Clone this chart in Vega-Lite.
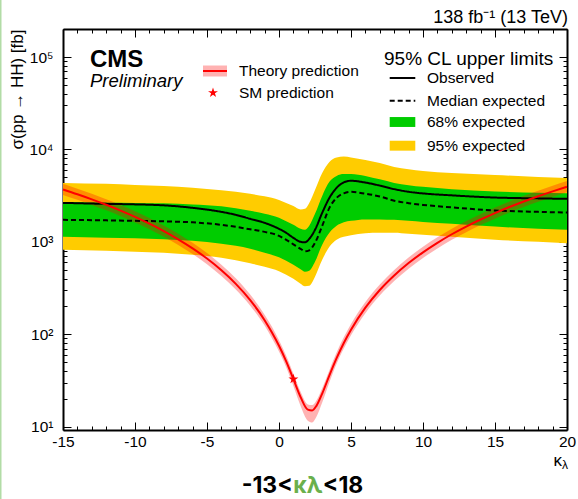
{
  "$schema": "https://vega.github.io/schema/vega-lite/v6.json",
  "width": 504,
  "height": 401,
  "autosize": {"type": "none"},
  "padding": {"left": 63, "top": 29, "right": 11, "bottom": 69},
  "background": "white",
  "config": {
    "view": {"stroke": null},
    "font": "Liberation Sans",
    "axis": {"grid": false, "tickColor": "black", "tickWidth": 1, "domainColor": "black", "domainWidth": 2, "labelFont": "Liberation Sans", "labelColor": "black", "labelFontSize": 15.5, "titleFont": "Liberation Sans", "titleColor": "black", "titleFontWeight": "normal", "labelOverlap": false, "labelFlush": false, "zindex": 1},
    "legend": {"labelFont": "Liberation Sans", "labelFontSize": 15.5, "labelColor": "black", "titleFont": "Liberation Sans", "titleFontSize": 19, "titleFontWeight": "normal", "titleColor": "black", "padding": 0, "labelLimit": 300, "direction": "vertical"}
  },
  "datasets": {
    "limits": [
      {"kl": -15, "obs": 2640, "exp": 1729, "lo68": 1132, "hi68": 2705, "lo95": 820, "hi95": 4345},
      {"kl": -12, "obs": 2576, "exp": 1708, "lo68": 1104, "hi68": 2672, "lo95": 800, "hi95": 4240},
      {"kl": -10, "obs": 2543, "exp": 1686, "lo68": 1091, "hi68": 2640, "lo95": 780, "hi95": 4130},
      {"kl": -8, "obs": 2483, "exp": 1666, "lo68": 1064, "hi68": 2608, "lo95": 760, "hi95": 4030},
      {"kl": -6, "obs": 2333, "exp": 1625, "lo68": 1025, "hi68": 2543, "lo95": 723, "hi95": 3840},
      {"kl": -4, "obs": 2110, "exp": 1527, "lo68": 951, "hi68": 2420, "lo95": 671, "hi95": 3605},
      {"kl": -3, "obs": 1959, "exp": 1452, "lo68": 905, "hi68": 2303, "lo95": 631, "hi95": 3473},
      {"kl": -2, "obs": 1774, "exp": 1365, "lo68": 840, "hi68": 2163, "lo95": 586, "hi95": 3306},
      {"kl": -1, "obs": 1604, "exp": 1282, "lo68": 760, "hi68": 2008, "lo95": 537, "hi95": 3105},
      {"kl": 0, "obs": 1383, "exp": 1161, "lo68": 680, "hi68": 1817, "lo95": 480, "hi95": 2845},
      {"kl": 0.5, "obs": 1251, "exp": 1052, "lo68": 623, "hi68": 1666, "lo95": 440, "hi95": 2640},
      {"kl": 1, "obs": 1104, "exp": 940, "lo68": 564, "hi68": 1527, "lo95": 398, "hi95": 2449},
      {"kl": 1.5, "obs": 1000, "exp": 840, "lo68": 505, "hi68": 1383, "lo95": 352, "hi95": 2245},
      {"kl": 1.8, "obs": 988, "exp": 789, "lo68": 474, "hi68": 1349, "lo95": 330, "hi95": 2275},
      {"kl": 2.1, "obs": 1077, "exp": 809, "lo68": 486, "hi68": 1489, "lo95": 334, "hi95": 2640},
      {"kl": 2.5, "obs": 1349, "exp": 975, "lo68": 608, "hi68": 2008, "lo95": 419, "hi95": 3650},
      {"kl": 3, "obs": 2060, "exp": 1489, "lo68": 929, "hi68": 3143, "lo95": 638, "hi95": 5570},
      {"kl": 3.5, "obs": 2992, "exp": 2333, "lo68": 1251, "hi68": 4456, "lo95": 883, "hi95": 7330},
      {"kl": 4, "obs": 3840, "exp": 2992, "lo68": 1489, "hi68": 5170, "lo95": 1052, "hi95": 8200},
      {"kl": 4.5, "obs": 4400, "exp": 3345, "lo68": 1625, "hi68": 5433, "lo95": 1132, "hi95": 8400},
      {"kl": 5, "obs": 4580, "exp": 3475, "lo68": 1686, "hi68": 5433, "lo95": 1175, "hi95": 8200},
      {"kl": 6, "obs": 4380, "exp": 3318, "lo68": 1750, "hi68": 5170, "lo95": 1236, "hi95": 7690},
      {"kl": 7, "obs": 4060, "exp": 3098, "lo68": 1750, "hi68": 4743, "lo95": 1251, "hi95": 7145},
      {"kl": 8, "obs": 3720, "exp": 2790, "lo68": 1729, "hi68": 4345, "lo95": 1251, "hi95": 6470},
      {"kl": 9, "obs": 3480, "exp": 2620, "lo68": 1690, "hi68": 4100, "lo95": 1220, "hi95": 6100},
      {"kl": 10, "obs": 3340, "exp": 2509, "lo68": 1644, "hi68": 3935, "lo95": 1191, "hi95": 5860},
      {"kl": 12, "obs": 3184, "exp": 2360, "lo68": 1566, "hi68": 3698, "lo95": 1132, "hi95": 5570},
      {"kl": 15, "obs": 3015, "exp": 2183, "lo68": 1463, "hi68": 3500, "lo95": 1052, "hi95": 5295},
      {"kl": 18, "obs": 2953, "exp": 2110, "lo68": 1383, "hi68": 3388, "lo95": 1000, "hi95": 5045},
      {"kl": 20, "obs": 2917, "exp": 2075, "lo68": 1349, "hi68": 3365, "lo95": 968, "hi95": 4920}
    ],
    "theory": [
      {"kl": -15, "xs": 3690, "lo": 3210, "hi": 4244},
      {"kl": -14, "xs": 3274, "lo": 2848, "hi": 3765},
      {"kl": -13, "xs": 2884, "lo": 2509, "hi": 3317},
      {"kl": -12, "xs": 2519, "lo": 2192, "hi": 2897},
      {"kl": -11, "xs": 2179, "lo": 1896, "hi": 2506},
      {"kl": -10, "xs": 1863, "lo": 1621, "hi": 2142},
      {"kl": -9, "xs": 1573, "lo": 1369, "hi": 1809},
      {"kl": -8, "xs": 1307, "lo": 1137, "hi": 1503},
      {"kl": -7, "xs": 1066, "lo": 927, "hi": 1226},
      {"kl": -6, "xs": 850, "lo": 740, "hi": 978},
      {"kl": -5, "xs": 659, "lo": 573, "hi": 758},
      {"kl": -4, "xs": 492, "lo": 428, "hi": 566},
      {"kl": -3, "xs": 351, "lo": 305, "hi": 404},
      {"kl": -2, "xs": 234, "lo": 204, "hi": 269},
      {"kl": -1, "xs": 142, "lo": 124, "hi": 163},
      {"kl": -0.5, "xs": 105, "lo": 91, "hi": 121},
      {"kl": 0, "xs": 75, "lo": 65, "hi": 86},
      {"kl": 0.5, "xs": 50.8, "lo": 44, "hi": 58.4},
      {"kl": 1, "xs": 32.7, "lo": 27.5, "hi": 37.3},
      {"kl": 1.5, "xs": 20.9, "lo": 16.7, "hi": 23.8},
      {"kl": 2, "xs": 15.3, "lo": 11.6, "hi": 17.4},
      {"kl": 2.3, "xs": 15.0, "lo": 11.1, "hi": 17.1},
      {"kl": 2.6, "xs": 16.8, "lo": 12.8, "hi": 19.2},
      {"kl": 3, "xs": 22.8, "lo": 18.2, "hi": 26},
      {"kl": 3.5, "xs": 35.9, "lo": 30.2, "hi": 40.9},
      {"kl": 4, "xs": 55.1, "lo": 47.9, "hi": 63.4},
      {"kl": 4.5, "xs": 80.5, "lo": 70, "hi": 92.6},
      {"kl": 5, "xs": 112, "lo": 97.4, "hi": 129},
      {"kl": 6, "xs": 194, "lo": 169, "hi": 223},
      {"kl": 7, "xs": 301, "lo": 262, "hi": 346},
      {"kl": 8, "xs": 432, "lo": 376, "hi": 497},
      {"kl": 9, "xs": 589, "lo": 512, "hi": 677},
      {"kl": 10, "xs": 770, "lo": 670, "hi": 886},
      {"kl": 11, "xs": 976, "lo": 849, "hi": 1122},
      {"kl": 12, "xs": 1208, "lo": 1051, "hi": 1389},
      {"kl": 13, "xs": 1463, "lo": 1273, "hi": 1682},
      {"kl": 14, "xs": 1744, "lo": 1517, "hi": 2006},
      {"kl": 15, "xs": 2049, "lo": 1783, "hi": 2356},
      {"kl": 16, "xs": 2380, "lo": 2071, "hi": 2737},
      {"kl": 17, "xs": 2735, "lo": 2379, "hi": 3145},
      {"kl": 18, "xs": 3115, "lo": 2710, "hi": 3582},
      {"kl": 19, "xs": 3520, "lo": 3062, "hi": 4048},
      {"kl": 20, "xs": 3949, "lo": 3436, "hi": 4541}
    ],
    "sm": [{"kl": 1, "xs": 32.7}],
    "edge": [{"kl": -19.34, "lo": 1.6, "hi": 420000}]
  },
  "layer": [
    {
      "data": {"name": "limits"},
      "mark": {"type": "area", "interpolate": "monotone"},
      "encoding": {
        "x": {"field": "kl", "type": "quantitative",
          "scale": {"domain": [-15, 20], "nice": false, "zero": false},
          "axis": {"orient": "bottom", "title": null,
            "values": [-15,-14,-13,-12,-11,-10,-9,-8,-7,-6,-5,-4,-3,-2,-1,0,1,2,3,4,5,6,7,8,9,10,11,12,13,14,15,16,17,18,19,20],
            "labelExpr": "datum.value % 5 === 0 ? '' + datum.value : ''",
            "tickSize": {"condition": {"test": "datum.value % 5 === 0", "value": -8}, "value": -4},
            "labelPadding": 12}},
        "y": {"field": "lo95", "type": "quantitative",
          "scale": {"type": "log", "domain": [9.2, 201000], "nice": false},
          "axis": {"orient": "left", "title": "σ(pp → HH) [fb]", "titleFontSize": 17, "titleAnchor": "end", "titlePadding": 3,
            "values": [10,20,30,40,50,60,70,80,90,100,200,300,400,500,600,700,800,900,1000,2000,3000,4000,5000,6000,7000,8000,9000,10000,20000,30000,40000,50000,60000,70000,80000,90000,100000,200000],
            "labelExpr": "datum.value === 10 ? '10¹' : datum.value === 100 ? '10²' : datum.value === 1000 ? '10³' : datum.value === 10000 ? '10⁴' : datum.value === 100000 ? '10⁵' : ''",
            "tickSize": {"condition": {"test": "indexof([10,100,1000,10000,100000], datum.value) >= 0", "value": -8}, "value": -4},
            "labelPadding": 18}},
        "y2": {"field": "hi95"},
        "color": {"datum": "95% expected",
          "scale": {"domain": ["68% expected", "95% expected"], "range": ["#00cc00", "#ffcc00"]},
          "legend": {"title": null, "orient": "none", "legendX": 321, "legendY": 85,
            "symbolType": "M-1.6,-0.62H1.6V0.62H-1.6Z", "symbolSize": 256, "symbolStrokeWidth": 0,
            "symbolOffset": 10.5, "labelOffset": 16.5, "rowPadding": 6.7}}
      }
    },
    {
      "data": {"name": "limits"},
      "mark": {"type": "area", "interpolate": "monotone"},
      "encoding": {
        "x": {"field": "kl", "type": "quantitative",
          "axis": {"orient": "top", "title": null, "labels": false,
            "values": [-15,-14,-13,-12,-11,-10,-9,-8,-7,-6,-5,-4,-3,-2,-1,0,1,2,3,4,5,6,7,8,9,10,11,12,13,14,15,16,17,18,19,20],
            "tickSize": {"condition": {"test": "datum.value % 5 === 0", "value": -8}, "value": -4}}},
        "y": {"field": "lo68", "type": "quantitative",
          "axis": {"orient": "right", "title": null, "labels": false,
            "values": [10,20,30,40,50,60,70,80,90,100,200,300,400,500,600,700,800,900,1000,2000,3000,4000,5000,6000,7000,8000,9000,10000,20000,30000,40000,50000,60000,70000,80000,90000,100000,200000],
            "tickSize": {"condition": {"test": "indexof([10,100,1000,10000,100000], datum.value) >= 0", "value": -8}, "value": -4}}},
        "y2": {"field": "hi68"},
        "color": {"datum": "68% expected"}
      }
    },
    {
      "data": {"name": "theory"},
      "mark": {"type": "area", "interpolate": "monotone"},
      "encoding": {
        "x": {"field": "kl", "type": "quantitative", "axis": null},
        "y": {"field": "lo", "type": "quantitative", "axis": null},
        "y2": {"field": "hi"},
        "fill": {"datum": "Theory prediction",
          "scale": {"domain": ["Theory prediction"], "range": ["rgba(255,0,0,0.3)"]},
          "legend": {"title": null, "orient": "none", "legendX": 140, "legendY": 33,
            "symbolType": "M-1.5,0H1.5V-0.7H-1.5V0.7H1.5V0", "symbolSize": 256,
            "symbolStrokeColor": "#ff0000", "symbolStrokeWidth": 2, "symbolDash": [24, 300],
            "symbolOffset": 3, "labelOffset": 15}}
      }
    },
    {
      "data": {"name": "limits"},
      "mark": {"type": "line", "interpolate": "monotone", "color": "black", "strokeWidth": 2},
      "encoding": {
        "x": {"field": "kl", "type": "quantitative", "axis": null},
        "y": {"field": "exp", "type": "quantitative", "axis": null},
        "strokeDash": {"datum": "Median expected",
          "scale": {"domain": ["Observed", "Median expected"], "range": [[1, 0], [5, 3]]},
          "legend": {"title": "95% CL upper limits", "orient": "none", "legendX": 321, "legendY": 21,
            "symbolType": "M-1.6,0H1.6", "symbolSize": 256, "symbolStrokeColor": "black", "symbolStrokeWidth": 2,
            "symbolFillColor": "transparent", "symbolOffset": 9.5, "labelOffset": 15.5, "rowPadding": 4.7, "titlePadding": 0}}
      }
    },
    {
      "data": {"name": "limits"},
      "mark": {"type": "line", "interpolate": "monotone", "color": "black", "strokeWidth": 2},
      "encoding": {
        "x": {"field": "kl", "type": "quantitative", "axis": null},
        "y": {"field": "obs", "type": "quantitative", "axis": null},
        "strokeDash": {"datum": "Observed"}
      }
    },
    {
      "data": {"name": "theory"},
      "mark": {"type": "line", "interpolate": "monotone", "color": "#ff0000", "strokeWidth": 2},
      "encoding": {
        "x": {"field": "kl", "type": "quantitative", "axis": null},
        "y": {"field": "xs", "type": "quantitative", "axis": null}
      }
    },
    {
      "data": {"name": "sm"},
      "mark": {"type": "point", "filled": true, "color": "#ff0000", "size": 110, "opacity": 1, "strokeWidth": 0},
      "encoding": {
        "x": {"field": "kl", "type": "quantitative", "axis": null},
        "y": {"field": "xs", "type": "quantitative", "axis": null},
        "shape": {"datum": "SM prediction",
          "scale": {"domain": ["SM prediction"], "range": ["M0,-1L0.2245,-0.309L0.951,-0.309L0.363,0.118L0.588,0.809L0,0.382L-0.588,0.809L-0.363,0.118L-0.951,-0.309L-0.2245,-0.309Z"]},
          "legend": {"title": null, "orient": "none", "legendX": 140, "legendY": 56,
            "symbolSize": 110, "symbolFillColor": "#ff0000", "symbolStrokeColor": "#ff0000", "symbolStrokeWidth": 0,
            "symbolOffset": 2.25, "labelOffset": 18.25}}
      }
    },
    {
      "data": {"name": "edge"},
      "mark": {"type": "rule", "color": "#b2dca6", "strokeWidth": 2},
      "encoding": {
        "x": {"field": "kl", "type": "quantitative", "axis": null},
        "y": {"field": "lo", "type": "quantitative", "axis": null},
        "y2": {"field": "hi"}
      }
    },
    {
      "data": {"values": [{"t": "138 fb⁻¹ (13 TeV)"}]},
      "mark": {"type": "text", "font": "Liberation Sans", "fontSize": 18, "align": "right", "baseline": "alphabetic", "dx": 1, "color": "black"},
      "encoding": {
        "x": {"datum": 20, "type": "quantitative", "axis": null},
        "y": {"datum": 231700, "type": "quantitative", "axis": null},
        "text": {"field": "t"}
      }
    },
    {
      "data": {"values": [{"t": "CMS"}]},
      "mark": {"type": "text", "font": "Liberation Sans", "fontWeight": "bold", "fontSize": 24, "align": "left", "baseline": "alphabetic", "color": "black"},
      "encoding": {
        "x": {"datum": -13.125, "type": "quantitative", "axis": null},
        "y": {"datum": 78500, "type": "quantitative", "axis": null},
        "text": {"field": "t"}
      }
    },
    {
      "data": {"values": [{"t": "Preliminary"}]},
      "mark": {"type": "text", "font": "Liberation Sans", "fontStyle": "italic", "fontSize": 18.5, "align": "left", "baseline": "alphabetic", "color": "black"},
      "encoding": {
        "x": {"datum": -13.125, "type": "quantitative", "axis": null},
        "y": {"datum": 47380, "type": "quantitative", "axis": null},
        "text": {"field": "t"}
      }
    },
    {
      "data": {"values": [{"t": "κ"}]},
      "mark": {"type": "text", "font": "Liberation Sans", "fontSize": 17, "align": "right", "baseline": "alphabetic", "dx": -5, "color": "black"},
      "encoding": {
        "x": {"datum": 20, "type": "quantitative", "axis": null},
        "y": {"datum": 3.757, "type": "quantitative", "axis": null},
        "text": {"field": "t"}
      }
    },
    {
      "data": {"values": [{"t": "λ"}]},
      "mark": {"type": "text", "font": "Liberation Sans", "fontSize": 12, "align": "left", "baseline": "alphabetic", "dx": -5, "color": "black"},
      "encoding": {
        "x": {"datum": 20, "type": "quantitative", "axis": null},
        "y": {"datum": 3.443, "type": "quantitative", "axis": null},
        "text": {"field": "t"}
      }
    },
    {
      "data": {"values": [{"t": "-13<"}]},
      "mark": {"type": "text", "font": "Inter", "fontWeight": "bold", "fontSize": 23, "align": "right", "baseline": "alphabetic", "dx": -15, "color": "black"},
      "encoding": {
        "x": {"datum": 2, "type": "quantitative", "axis": null},
        "y": {"datum": 1.893, "type": "quantitative", "axis": null},
        "text": {"field": "t"}
      }
    },
    {
      "data": {"values": [{"t": "κλ"}]},
      "mark": {"type": "text", "font": "Inter", "fontWeight": "bold", "fontSize": 23, "align": "center", "baseline": "alphabetic", "color": "#6ab04c"},
      "encoding": {
        "x": {"datum": 2, "type": "quantitative", "axis": null},
        "y": {"datum": 1.893, "type": "quantitative", "axis": null},
        "text": {"field": "t"}
      }
    },
    {
      "data": {"values": [{"t": "<18"}]},
      "mark": {"type": "text", "font": "Inter", "fontWeight": "bold", "fontSize": 23, "align": "left", "baseline": "alphabetic", "dx": 15, "color": "black"},
      "encoding": {
        "x": {"datum": 2, "type": "quantitative", "axis": null},
        "y": {"datum": 1.893, "type": "quantitative", "axis": null},
        "text": {"field": "t"}
      }
    }
  ],
  "resolve": {"axis": {"x": "independent", "y": "independent"}}
}
